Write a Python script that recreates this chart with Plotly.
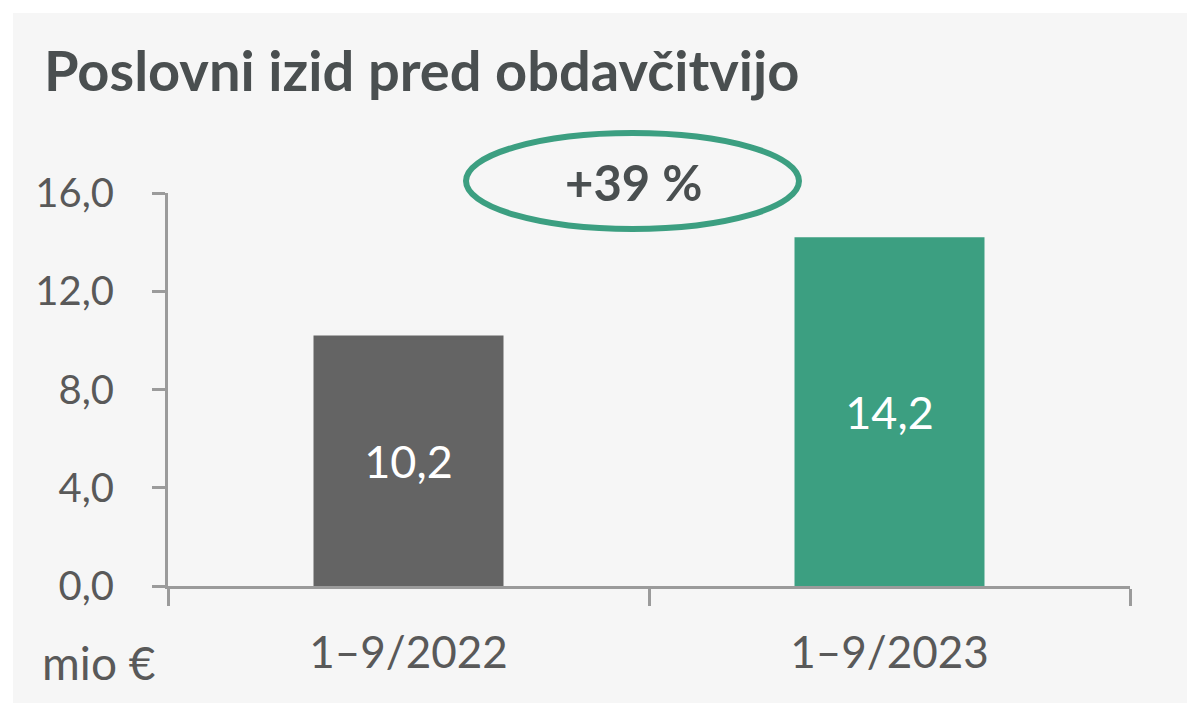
import plotly.graph_objects as go

categories = ["1–9/2022", "1–9/2023"]
values = [10.2, 14.2]
bar_colors = ["#646464", "#3c9f81"]
y_ticks = [0, 4, 8, 12, 16]
title_text = "Poslovni izid pred obdavčitvijo"
change_text = "+39 %"
unit_text = "mio €"

W, H = 1187, 703
L, R = 168, 1130   # plot area x pixels
T, B = 193, 586    # plot area y pixels

def px(x):
    return (x - L) / (R - L)

def py(y):
    return (B - y) / (B - T)

FONT = "Lato"
TXT = "#595959"
AX = "#9b9b9b"
PANEL = "#f6f6f6"

fig = go.Figure()
fig.add_trace(go.Bar(
    x=categories, y=values,
    marker=dict(color=bar_colors, line=dict(width=0)),
    texttemplate="%{y:.1f}", textposition="inside", insidetextanchor="middle",
    textangle=0, constraintext="none",
    textfont=dict(family=FONT, size=45, color="white"),
    hoverinfo="skip",
))

fig.update_layout(
    width=W, height=H,
    margin=dict(l=L, r=W - R, t=T, b=H - B, pad=0),
    paper_bgcolor=PANEL, plot_bgcolor="rgba(0,0,0,0)",
    separators=",.",
    showlegend=False,
    bargap=0.605,
    font=dict(family=FONT, color=TXT),
    xaxis=dict(
        type="category", range=[-0.5, 1.5],
        showline=True, linecolor=AX, linewidth=3,
        ticks="outside", tickson="boundaries", ticklen=17, tickwidth=3, tickcolor=AX,
        tickfont=dict(family=FONT, size=44, color=TXT),
        ticklabelstandoff=26,
        showgrid=False, zeroline=False, fixedrange=True,
    ),
    yaxis=dict(
        range=[0, 16], tickvals=y_ticks, tickformat=".1f",
        showline=True, linecolor=AX, linewidth=3,
        ticks="outside", ticklen=13, tickwidth=3, tickcolor=AX,
        tickfont=dict(family=FONT, size=40, color=TXT),
        ticklabelstandoff=30,
        showgrid=False, zeroline=False, fixedrange=True,
    ),
)

# white outer border on top and left of the panel
fig.add_shape(type="rect", xref="paper", yref="paper", layer="below",
              x0=px(-5), x1=px(W + 5), y0=py(13), y1=py(-5),
              fillcolor="white", line=dict(width=0))
fig.add_shape(type="rect", xref="paper", yref="paper", layer="below",
              x0=px(-5), x1=px(13), y0=py(H + 5), y1=py(-5),
              fillcolor="white", line=dict(width=0))

# ellipse highlight
fig.add_shape(type="circle", xref="paper", yref="paper",
              x0=px(466), x1=px(799), y0=py(229), y1=py(133),
              line=dict(color="#3c9f81", width=6), fillcolor="rgba(0,0,0,0)")

fig.add_annotation(text=f"<b>{change_text}</b>", xref="paper", yref="paper",
                   x=px(633), y=py(182), xanchor="center", yanchor="middle",
                   showarrow=False, font=dict(family=FONT, size=49, color="#4a4f50"))

fig.add_annotation(text=f"<b>{title_text}</b>", xref="paper", yref="paper",
                   x=px(42), y=py(69), xanchor="left", yanchor="middle",
                   showarrow=False, font=dict(family=FONT, size=56, color="#4a4f50"))

fig.add_annotation(text=unit_text, xref="paper", yref="paper",
                   x=px(40), y=py(662), xanchor="left", yanchor="middle",
                   showarrow=False, font=dict(family=FONT, size=46, color=TXT))

fig.write_html("out.html", config={"displayModeBar": False},
               post_script="document.body.style.margin='0';document.body.style.padding='0';"
                           "document.body.style.background='" + PANEL + "';"
                           "document.body.style.overflow='hidden';")
